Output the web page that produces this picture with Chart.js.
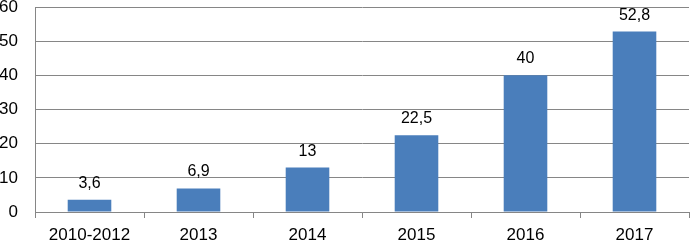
<!DOCTYPE html>
<html>
<head>
<meta charset="utf-8">
<script src="https://cdn.jsdelivr.net/npm/chart.js@4/dist/chart.umd.min.js"></script>
<style>
  html, body { margin: 0; padding: 0; background: #fff; }
  #wrap { width: 691px; height: 242px; }
</style>
</head>
<body>
<div id="wrap"><canvas id="myChart"></canvas></div>
<script>
const years = ['2010-2012', '2013', '2014', '2015', '2016', '2017'];
const values = [3.6, 6.9, 13, 22.5, 40, 52.8];
const yTicks = [0, 10, 20, 30, 40, 50, 60];

const gridColor = '#868686';
const fontFamily = "'Liberation Sans', Arial, sans-serif";

// values are shown with a comma, as in the original
const fmt = v => String(v).replace('.', ',');

const barLabels = {
    id: 'barLabels',
    afterDatasetsDraw(chart) {
        const c = chart.ctx;
        const meta = chart.getDatasetMeta(0);
        c.save();
        c.font = '16px ' + fontFamily;
        c.fillStyle = '#000';
        c.textAlign = 'center';
        c.textBaseline = 'alphabetic';
        meta.data.forEach((bar, i) => {
            c.fillText(fmt(values[i]), bar.x, bar.y - 12);
        });
        c.restore();
    }
};

const ctx = document.getElementById('myChart');

new Chart(ctx, {
    type: 'bar',
    data: {
        labels: years,
        datasets: [{
            data: values,
            backgroundColor: '#4A7EBB',
            borderWidth: 0,
            categoryPercentage: 1,
            barPercentage: 0.4
        }]
    },
    options: {
        responsive: true,
        maintainAspectRatio: false,
        animation: false,
        layout: { padding: { top: 0, right: 2, left: 0, bottom: 0 } },
        plugins: {
            legend: { display: false },
            tooltip: { enabled: false }
        },
        scales: {
            x: {
                afterFit: s => { s.height = 30; },
                grid: {
                    drawOnChartArea: false,
                    drawTicks: true,
                    tickLength: 6,
                    color: gridColor
                },
                border: { color: gridColor },
                ticks: {
                    color: '#000',
                    padding: 7,
                    maxRotation: 0,
                    font: { family: fontFamily, size: 17 }
                }
            },
            y: {
                min: 0,
                max: 60,
                afterBuildTicks: s => { s.ticks = yTicks.map(v => ({ value: v })); },
                afterFit: s => {
                    s.width = 35;
                    s.paddingTop = 7;
                    s.paddingBottom = 0;
                },
                grid: { color: gridColor, drawTicks: false },
                border: { color: gridColor },
                ticks: {
                    color: '#000',
                    padding: 17,
                    font: { family: fontFamily, size: 17 }
                }
            }
        }
    },
    plugins: [barLabels]
});
</script>
</body>
</html>
